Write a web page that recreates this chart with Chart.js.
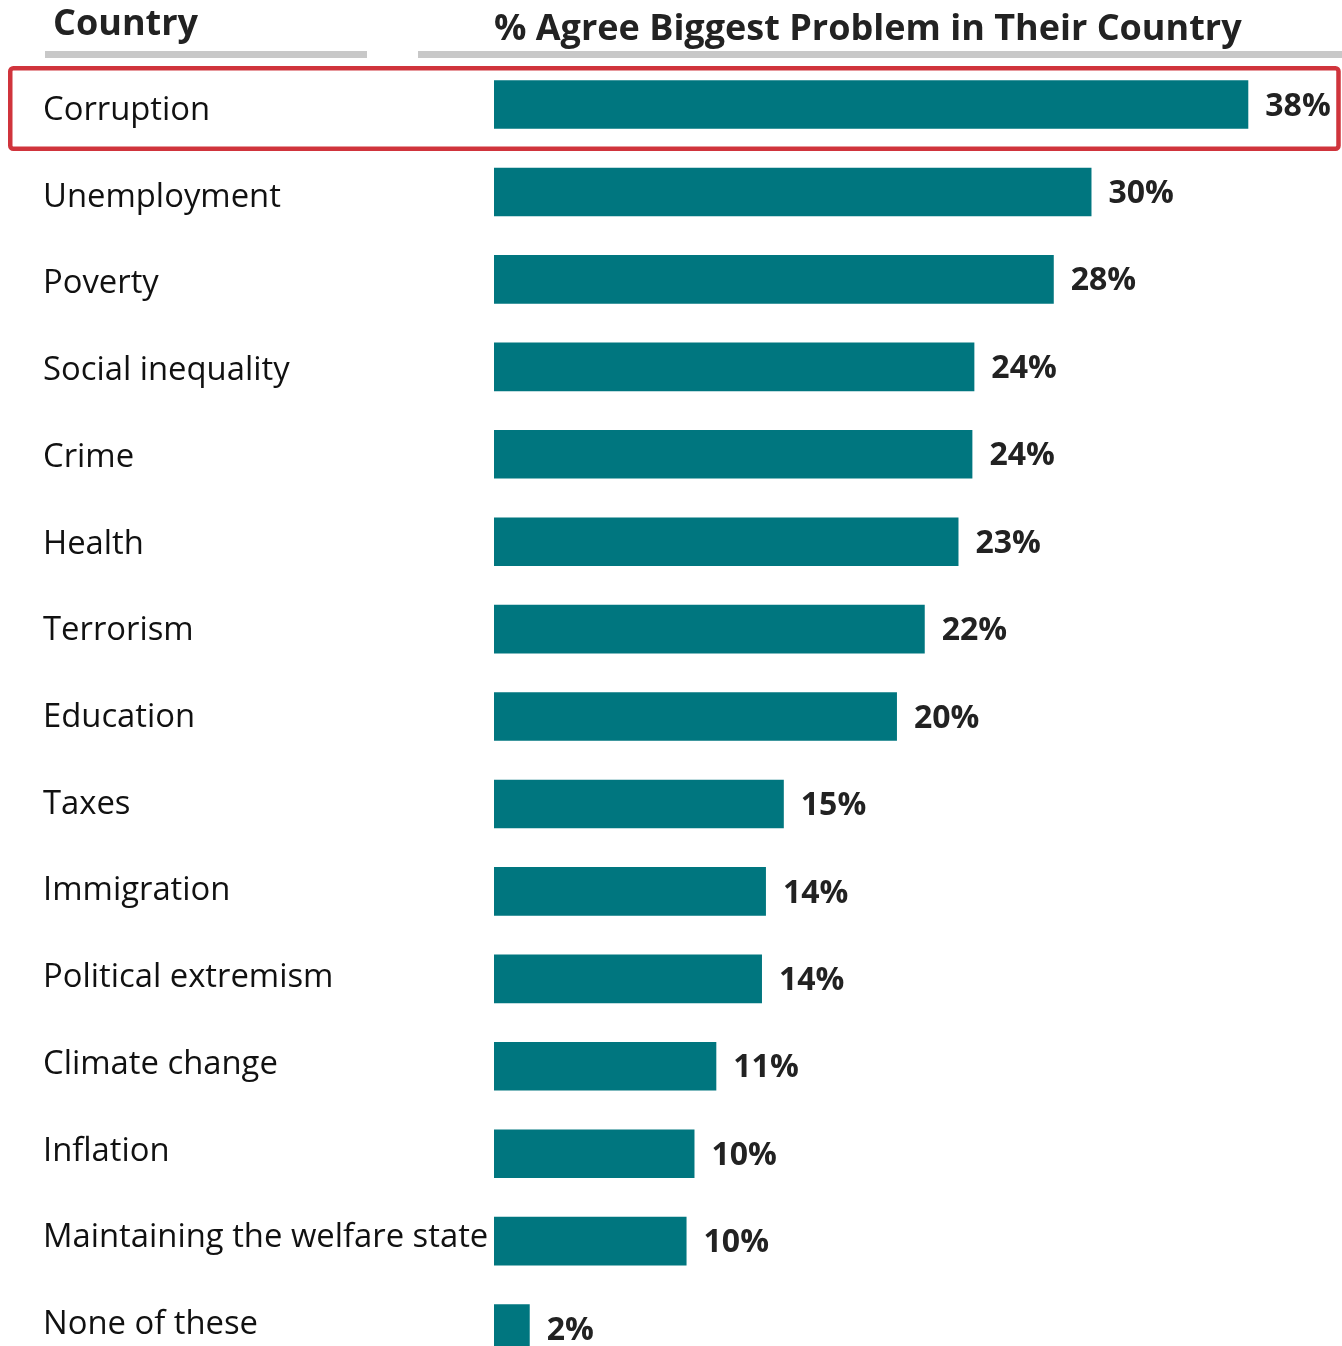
<!DOCTYPE html>
<html>
<head>
<meta charset="utf-8">
<script src="https://cdn.jsdelivr.net/npm/chart.js@4.4.1/dist/chart.umd.min.js"></script>
<style>
  html, body { margin: 0; padding: 0; background: #fff; overflow: hidden; }
  canvas { display: block; }
</style>
</head>
<body>
<canvas id="chart" width="1342" height="1392"></canvas>
<script>
// Problems ranked by share of respondents naming them
const categories = [
  'Corruption', 'Unemployment', 'Poverty', 'Social inequality', 'Crime',
  'Health', 'Terrorism', 'Education', 'Taxes', 'Immigration',
  'Political extremism', 'Climate change', 'Inflation',
  'Maintaining the welfare state', 'None of these'
];
const agreePct = [38.0, 30.1, 28.2, 24.2, 24.1, 23.4, 21.7, 20.3, 14.6, 13.7, 13.5, 11.2, 10.1, 9.7, 1.8];
const headerLeft = 'Country';
const headerRight = '% Agree Biggest Problem in Their Country';
const highlightedCategory = 'Corruption';

const BAR_COLOR = '#00767F';
const TEXT_FONT = '"Open Sans", "Noto Sans", sans-serif';

// Column headers with grey underlines
const headerPlugin = {
  id: 'headers',
  afterDraw(chart) {
    const ctx = chart.ctx;
    ctx.save();
    ctx.fillStyle = '#222';
    ctx.font = 'bold 36px ' + TEXT_FONT;
    ctx.textBaseline = 'alphabetic';
    ctx.textAlign = 'left';
    ctx.fillText(headerLeft, 53, 35);
    ctx.fillText(headerRight, 494, 40);
    ctx.fillStyle = '#C8C8C8';
    ctx.fillRect(45, 51, 322, 7);
    ctx.fillRect(418, 51, 924, 7);
    ctx.restore();
  }
};

// Percentage labels at the end of each bar
const valueLabelPlugin = {
  id: 'valueLabels',
  afterDatasetsDraw(chart) {
    const ctx = chart.ctx;
    const meta = chart.getDatasetMeta(0);
    ctx.save();
    ctx.fillStyle = '#222';
    ctx.font = 'bold 32px ' + TEXT_FONT;
    ctx.textAlign = 'left';
    ctx.textBaseline = 'middle';
    meta.data.forEach((bar, i) => {
      const v = chart.data.datasets[0].data[i];
      ctx.fillText(Math.round(v) + '%', bar.x + 17, bar.y + 2);
    });
    ctx.restore();
  }
};

// Red frame around the highlighted row
const highlightPlugin = {
  id: 'highlight',
  afterDraw(chart) {
    const y = chart.scales.y;
    const idx = categories.indexOf(highlightedCategory);
    const c = y.getPixelForTick(idx);
    const ctx = chart.ctx;
    ctx.save();
    ctx.strokeStyle = '#D0343C';
    ctx.lineWidth = 4.5;
    ctx.beginPath();
    ctx.roundRect(10.25, c - 36.25, 1328.25, 80.5, 3);
    ctx.stroke();
    ctx.restore();
  }
};

new Chart(document.getElementById('chart'), {
  type: 'bar',
  data: {
    labels: categories,
    datasets: [{
      data: agreePct,
      backgroundColor: BAR_COLOR,
      borderWidth: 0,
      categoryPercentage: 1,
      barPercentage: 0.556
    }]
  },
  options: {
    indexAxis: 'y',
    responsive: false,
    animation: false,
    layout: { padding: { left: 43, top: 60.8, right: 54, bottom: 0 } },
    plugins: { legend: { display: false }, tooltip: { enabled: false } },
    scales: {
      x: { display: false, min: 0, max: 40 },
      // category axis that positions the bars
      y: { display: false },
      // row-name column, laid out on a slightly tighter row pitch than the bars
      names: {
        type: 'linear',
        position: 'left',
        reverse: true,
        offset: false,
        bounds: 'data',
        min: -0.574,
        max: 14.55,
        afterBuildTicks(scale) {
          scale.ticks = categories.map((_, i) => ({ value: i }));
        },
        afterFit(scale) { scale.width = 451; },
        grid: { display: false, offset: false },
        border: { display: false },
        ticks: {
          autoSkip: false,
          crossAlign: 'far',
          color: '#111',
          font: { family: TEXT_FONT, size: 32.8 },
          padding: 0,
          callback: (value) => categories[value]
        }
      }
    }
  },
  plugins: [valueLabelPlugin, headerPlugin, highlightPlugin]
});
</script>
</body>
</html>
